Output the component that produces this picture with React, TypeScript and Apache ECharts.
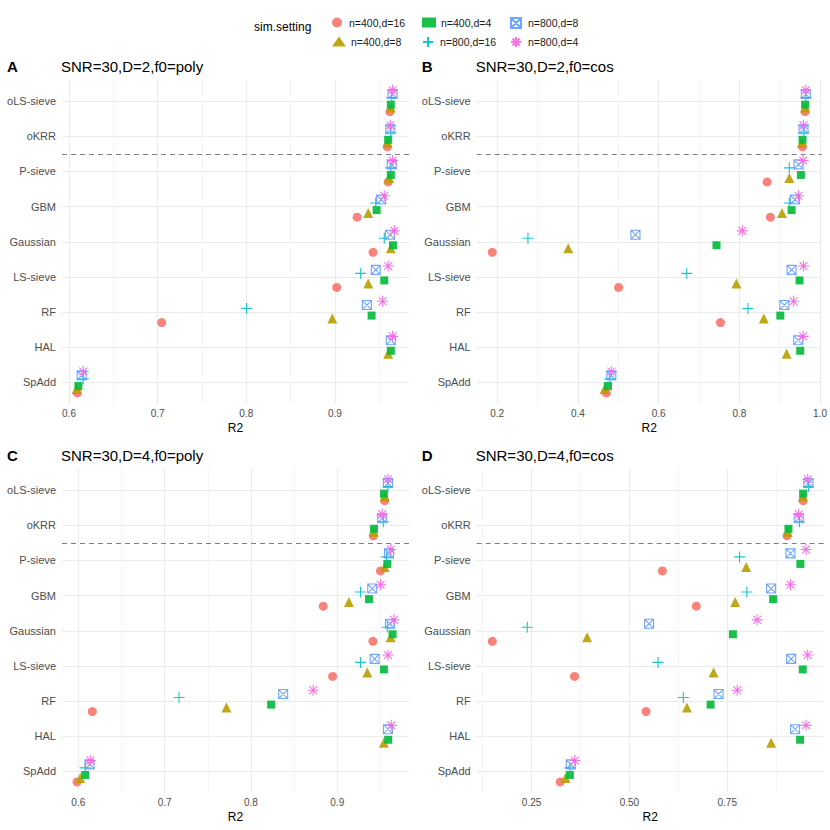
import React, { useEffect, useRef } from 'react';
import * as echarts from 'echarts';

// ---------- data ----------
const categories = ['oLS-sieve', 'oKRR', 'P-sieve', 'GBM', 'Gaussian', 'LS-sieve', 'RF', 'HAL', 'SpAdd'];
const seriesNames = ['n=400,d=16', 'n=400,d=8', 'n=400,d=4', 'n=800,d=16', 'n=800,d=8', 'n=800,d=4'];
const panelTags = ['A', 'B', 'C', 'D'];
const panelTitles = ['SNR=30,D=2,f0=poly', 'SNR=30,D=2,f0=cos', 'SNR=30,D=4,f0=poly', 'SNR=30,D=4,f0=cos'];

// Panel A (SNR=30,D=2,f0=poly), values by category (top to bottom); null = not run
const A_n400_d16 = [0.962, 0.959, 0.960, 0.925, 0.943, 0.902, 0.7045, null, 0.6094];
const A_n400_d8 = [0.963, 0.9594, 0.961, 0.9375, 0.963, 0.9375, 0.897, 0.960, 0.6087];
const A_n400_d4 = [0.963, 0.960, 0.963, 0.947, 0.9654, 0.9556, 0.9413, 0.963, 0.6106];
const A_n800_d16 = [0.964, 0.963, 0.963, 0.946, 0.9556, 0.929, 0.8002, null, 0.616];
const A_n800_d8 = [0.965, 0.9624, 0.964, 0.952, 0.962, 0.946, 0.936, 0.963, 0.6143];
const A_n800_d4 = [0.965, 0.9624, 0.965, 0.9556, 0.967, 0.960, 0.9537, 0.965, 0.616];

// Panel B (SNR=30,D=2,f0=cos)
const B_n400_d16 = [0.963, 0.9566, 0.8689, 0.877, 0.1877, 0.5008, 0.7533, null, 0.4705];
const B_n400_d8 = [0.963, 0.955, 0.9238, 0.9057, 0.376, 0.7926, 0.8607, 0.9172, 0.466];
const B_n400_d4 = [0.963, 0.9566, 0.9525, 0.9295, 0.7434, 0.9492, 0.9016, 0.9508, 0.4746];
const B_n800_d16 = [0.965, 0.96, 0.9238, 0.9238, 0.2762, 0.6697, 0.8213, null, 0.479];
const B_n800_d8 = [0.9648, 0.959, 0.9467, 0.9377, 0.5426, 0.9295, 0.9115, 0.9459, 0.4828];
const B_n800_d4 = [0.9648, 0.959, 0.958, 0.9467, 0.8074, 0.959, 0.9344, 0.958, 0.4828];

// Panel C (SNR=30,D=4,f0=poly)
const C_n400_d16 = [0.955, 0.9417, 0.950, 0.8837, 0.9413, 0.8946, 0.6162, null, 0.5985];
const C_n400_d8 = [0.9549, 0.9425, 0.955, 0.9135, 0.9618, 0.9348, 0.7716, 0.954, 0.6023];
const C_n400_d4 = [0.954, 0.9425, 0.958, 0.9367, 0.9641, 0.954, 0.8234, 0.959, 0.608];
const C_n800_d16 = [0.9587, 0.9533, 0.957, 0.927, 0.958, 0.927, 0.7167, null, 0.608];
const C_n800_d8 = [0.9587, 0.952, 0.9599, 0.9405, 0.961, 0.9433, 0.8373, 0.9587, 0.6131];
const C_n800_d4 = [0.9587, 0.952, 0.9618, 0.9502, 0.9657, 0.9587, 0.8721, 0.9626, 0.6139];

// Panel D (SNR=30,D=4,f0=cos)
const D_n400_d16 = [0.944, 0.903, 0.5842, 0.6709, 0.1497, 0.3597, 0.5425, null, 0.3231];
const D_n400_d8 = [0.943, 0.9048, 0.7985, 0.7704, 0.392, 0.7151, 0.6471, 0.8622, 0.3367];
const D_n400_d4 = [0.944, 0.9065, 0.937, 0.8673, 0.7645, 0.943, 0.7075, 0.9362, 0.3478];
const D_n800_d16 = [0.9575, 0.9345, 0.7815, 0.8002, 0.2389, 0.5731, 0.6378, null, 0.3478];
const D_n800_d8 = [0.9575, 0.9328, 0.9116, 0.8622, 0.5502, 0.9133, 0.7279, 0.9235, 0.3503];
const D_n800_d4 = [0.9558, 0.9328, 0.9515, 0.9116, 0.8265, 0.9558, 0.7755, 0.9515, 0.3605];

// axis ticks
const A_ticks = [0.6, 0.7, 0.8, 0.9];
const B_ticks = [0.2, 0.4, 0.6, 0.8, 1.0];
const C_ticks = [0.6, 0.7, 0.8, 0.9];
const D_ticks = [0.25, 0.5, 0.75];
const A_gridlines = [0.6, 0.65, 0.7, 0.75, 0.8, 0.85, 0.9, 0.95];
const B_gridlines = [0.2, 0.3, 0.4, 0.5, 0.6, 0.7, 0.8, 0.9, 1.0];
const C_gridlines = [0.6, 0.65, 0.7, 0.75, 0.8, 0.85, 0.9, 0.95];
const D_gridlines = [0.125, 0.25, 0.375, 0.5, 0.625, 0.75, 0.875];

// ---------- styling / layout ----------
const COLORS = ['#F8766D', '#B79F00', '#00BA38', '#00BFC4', '#619CFF', '#F564E3'];
const FONT = '"Liberation Sans", Arial, Helvetica, sans-serif';
const SYMBOLS: any[] = [
  { symbol: 'circle', size: 9, stroke: false },
  { symbol: 'triangle', size: 10, stroke: false },
  { symbol: 'rect', size: 8, stroke: false },
  { symbol: 'path://M5,0L5,10M0,5L10,5', size: 11, stroke: true },
  { symbol: 'path://M0,0L10,0L10,10L0,10ZM0,0L10,10M10,0L0,10', size: 9, stroke: true },
  { symbol: 'path://M5,0L5,10M0,5L10,5M1.46,1.46L8.54,8.54M8.54,1.46L1.46,8.54', size: 11, stroke: true },
];
const DODGE = [-0.3, -0.185, -0.1, 0.1, 0.2, 0.31];

const panels = [
  { data: [A_n400_d16, A_n400_d8, A_n400_d4, A_n800_d16, A_n800_d8, A_n800_d4], ticks: A_ticks, lines: A_gridlines, min: 0.5921, max: 0.9835, dec: 1, firstMajor: true, left: 62, top: 80 },
  { data: [B_n400_d16, B_n400_d8, B_n400_d4, B_n800_d16, B_n800_d8, B_n800_d4], ticks: B_ticks, lines: B_gridlines, min: 0.1492, max: 1.0041, dec: 1, firstMajor: true, left: 476.7, top: 80 },
  { data: [C_n400_d16, C_n400_d8, C_n400_d4, C_n800_d16, C_n800_d8, C_n800_d4], ticks: C_ticks, lines: C_gridlines, min: 0.5811, max: 0.9831, dec: 1, firstMajor: true, left: 62, top: 469 },
  { data: [D_n400_d16, D_n400_d8, D_n400_d4, D_n800_d16, D_n800_d8, D_n800_d4], ticks: D_ticks, lines: D_gridlines, min: 0.1097, max: 0.9966, dec: 2, firstMajor: false, left: 476.7, top: 469 },
];
const PW = 347;
const PH = 323.5;

function buildOption() {
  const grid: any[] = [];
  const xAxis: any[] = [];
  const yAxis: any[] = [];
  const series: any[] = [];
  const graphic: any[] = [];
  const nCat = categories.length;
  const yVals = categories.map((_, i) => nCat - i);

  panels.forEach((p, gi) => {
    grid.push({ left: p.left, top: p.top, width: PW, height: PH });
    const major = '#EBEBEB';
    const minor = '#F5F5F5';
    xAxis.push({
      type: 'value', gridIndex: gi, min: p.min, max: p.max,
      axisLine: { show: false },
      axisTick: { show: false, customValues: p.lines },
      axisLabel: {
        customValues: p.ticks, color: '#4D4D4D', fontSize: 10, margin: 5, fontFamily: FONT,
        formatter: (v: number) => v.toFixed(p.dec),
      },
      splitLine: { show: true, lineStyle: { color: p.firstMajor ? [major, minor] : [minor, major], width: 1.1 } },
      name: 'R2', nameLocation: 'middle', nameGap: 18,
      nameTextStyle: { color: '#000', fontSize: 12, fontFamily: FONT },
    });
    yAxis.push({
      type: 'value', gridIndex: gi, min: 0.4, max: nCat + 0.6,
      axisLine: { show: false },
      axisTick: { show: false, customValues: yVals },
      axisLabel: {
        customValues: yVals, color: '#4D4D4D', fontSize: 11, margin: 6, fontFamily: FONT,
        formatter: (v: number) => categories[nCat - Math.round(v)] ?? '',
      },
      splitLine: { show: true, lineStyle: { color: '#EBEBEB', width: 1.1 } },
    });
    p.data.forEach((vals, si) => {
      const sym = SYMBOLS[si];
      const pts: any[] = [];
      vals.forEach((v, ci) => {
        if (v !== null && v !== undefined) pts.push([v, yVals[ci] + DODGE[si]]);
      });
      const s: any = {
        type: 'scatter', name: seriesNames[si], xAxisIndex: gi, yAxisIndex: gi,
        symbol: sym.symbol, symbolSize: sym.size,
        data: pts,
        itemStyle: sym.stroke
          ? { color: 'rgba(0,0,0,0)', borderColor: COLORS[si], borderWidth: 1.1, opacity: 0.9 }
          : { color: COLORS[si], opacity: 0.9 },
        emphasis: { disabled: true },
        z: 2 + si,
      };
      if (si === 0) {
        s.markLine = {
          silent: true, symbol: 'none', animation: false,
          label: { show: false },
          lineStyle: { type: [5, 4], color: '#7F7F7F', width: 1 },
          data: [{ yAxis: nCat - 1.5 }],
        };
      }
      series.push(s);
    });
    graphic.push({
      type: 'text', x: p.left - 55, y: p.top - 14,
      style: { text: panelTags[gi], font: `bold 15px ${FONT}`, fill: '#000', textVerticalAlign: 'middle' },
    });
    graphic.push({
      type: 'text', x: p.left - 1, y: p.top - 14,
      style: { text: panelTitles[gi], font: `15px ${FONT}`, fill: '#000', textVerticalAlign: 'middle' },
    });
  });

  graphic.push({
    type: 'text', x: 254, y: 27,
    style: { text: 'sim.setting', font: `12px ${FONT}`, fill: '#000', textVerticalAlign: 'middle' },
  });

  // legend: 3 columns x 2 rows, filled column-wise
  const legendPos = [
    [327, 12], [327, 31], [417, 12], [417, 31], [505, 12], [505, 31],
  ];
  const legend = seriesNames.map((n, i) => ({
    data: [n], left: legendPos[i][0], top: legendPos[i][1],
    itemWidth: 14, itemHeight: 10, itemGap: 0, selectedMode: false,
    textStyle: { fontSize: 10.5, color: '#1A1A1A', fontFamily: FONT },
  }));

  return {
    animation: false,
    backgroundColor: '#FFFFFF',
    textStyle: { fontFamily: FONT },
    grid, xAxis, yAxis, series, legend, graphic,
  };
}

export default function App() {
  const ref = useRef<HTMLDivElement>(null);
  useEffect(() => {
    if (!ref.current) return;
    const chart = echarts.init(ref.current, undefined, { renderer: 'svg' });
    chart.setOption(buildOption() as any);
    return () => chart.dispose();
  }, []);
  return <div ref={ref} style={{ position: 'absolute', left: 0, top: 0, width: 830, height: 830 }} />;
}
